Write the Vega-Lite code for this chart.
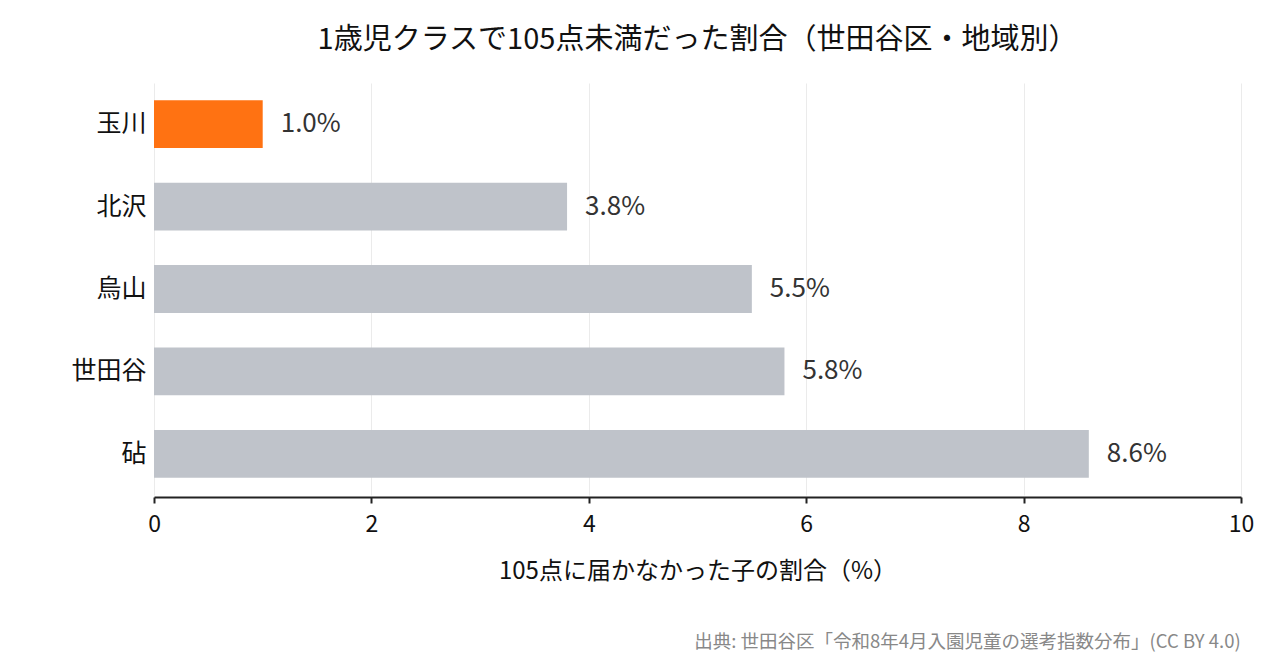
{
  "$schema": "https://vega.github.io/schema/vega-lite/v6.json",
  "background": "white",
  "padding": {"left": 70, "top": 26, "right": 10, "bottom": 10},
  "title": {
    "text": "出典: 世田谷区「令和8年4月入園児童の選考指数分布」(CC BY 4.0)",
    "orient": "bottom",
    "anchor": "end",
    "fontSize": 18.5,
    "fontWeight": "normal",
    "color": "#888888",
    "offset": 50,
    "dx": -13
  },
  "vconcat": [
    {
      "title": {
        "text": "1歳児クラスで105点未満だった割合（世田谷区・地域別）",
        "fontSize": 29,
        "fontWeight": "normal",
        "color": "#111111",
        "offset": 28
      },
      "width": 1087,
      "height": 412,
      "data": {
        "values": [
          {"area": "玉川", "pct": 1.0, "label": "1.0%", "highlight": "yes"},
          {"area": "北沢", "pct": 3.8, "label": "3.8%", "highlight": "no"},
          {"area": "烏山", "pct": 5.5, "label": "5.5%", "highlight": "no"},
          {"area": "世田谷", "pct": 5.8, "label": "5.8%", "highlight": "no"},
          {"area": "砧", "pct": 8.6, "label": "8.6%", "highlight": "no"}
        ]
      },
      "encoding": {
        "y": {
          "field": "area",
          "type": "nominal",
          "sort": ["玉川", "北沢", "烏山", "世田谷", "砧"],
          "scale": {"paddingInner": 0.42, "paddingOuter": 0.21},
          "axis": {
            "title": null,
            "domain": false,
            "ticks": false,
            "labelFontSize": 25,
            "labelColor": "#111111",
            "labelPadding": 8
          }
        },
        "x": {
          "field": "pct",
          "type": "quantitative",
          "scale": {"domain": [0, 10], "nice": false},
          "axis": {
            "title": "105点に届かなかった子の割合（%）",
            "values": [0, 2, 4, 6, 8, 10],
            "offset": 2,
            "labelFlush": false,
            "domainColor": "#222222",
            "domainWidth": 2,
            "tickColor": "#222222",
            "tickWidth": 2,
            "tickSize": 6,
            "labelFontSize": 23,
            "labelColor": "#111111",
            "labelPadding": 10,
            "titleFontSize": 24,
            "titleFontWeight": "normal",
            "titleColor": "#111111",
            "titlePadding": 23,
            "gridColor": "#EBEBEB",
            "gridWidth": 1
          }
        }
      },
      "layer": [
        {
          "mark": {"type": "bar"},
          "encoding": {
            "color": {
              "field": "highlight",
              "type": "nominal",
              "scale": {"domain": ["yes", "no"], "range": ["#FF7212", "#BFC3CA"]},
              "legend": null
            }
          }
        },
        {
          "mark": {"type": "text", "align": "left", "baseline": "middle", "dx": 18, "fontSize": 26, "color": "#333333"},
          "encoding": {"text": {"field": "label"}}
        }
      ]
    }
  ],
  "config": {
    "font": "Noto Sans CJK JP",
    "view": {"stroke": null},
    "concat": {"spacing": 0}
  }
}
